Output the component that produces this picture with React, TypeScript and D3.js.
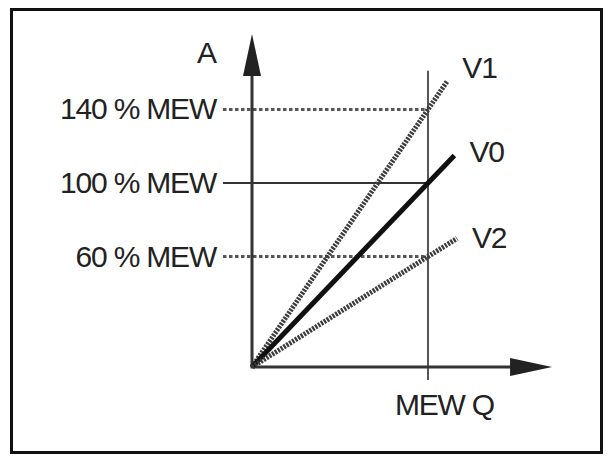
import React from "react";
import * as d3 from "d3";

// levels on the A axis, in % of MEW
const levelLabels = ["140 % MEW", "100 % MEW", "60 % MEW"];
const levelValues = [140, 100, 60];
const levelDotted = [true, false, true];

// characteristic lines through the origin: A = slope * Q
const seriesNames = ["V1", "V0", "V2"];
const seriesSlopes = [140, 100, 60];
const seriesEndQ = [1.11, 1.15, 1.165];
const seriesDotted = [true, false, true];

// axis extents (Q in units of MEW Q, A in %)
const qAxisEnd = 1.705;
const aAxisEnd = 181;
const mewQ = 1;
const mewLineRange = [-7, 161];

const W = 607;
const H = 456;
const FONT = "'Liberation Sans', Arial, sans-serif";
const FS = 30;
const LS = -1.2;

export default function App() {
  const x = d3.scaleLinear().domain([0, 1]).range([252, 428]);
  const y = d3.scaleLinear().domain([0, 100]).range([367, 183]);

  const ink = "#222";
  const arrowLen = 42;
  const arrowHalf = 9;

  const x0 = x(0);
  const y0 = y(0);
  const yTip = y(aAxisEnd);
  const xTip = x(qAxisEnd);

  const line = d3.line<[number, number]>().x((d) => x(d[0])).y((d) => y(d[1]));

  const textProps = { fontFamily: FONT, fontSize: FS, fill: ink, letterSpacing: LS };

  return (
    <div style={{ position: "absolute", left: 0, top: 0 }}>
      <svg width={W} height={H} style={{ display: "block", background: "#fff" }}>
        {/* frame */}
        <rect x={11.5} y={9.5} width={590} height={443} fill="none" stroke="#111" strokeWidth={3} />

        {/* level lines */}
        {levelValues.map((v, i) => (
          <g key={levelLabels[i]}>
            <line
              x1={223}
              x2={x(mewQ)}
              y1={y(v)}
              y2={y(v)}
              stroke={levelDotted[i] ? "#555" : "#333"}
              strokeWidth={levelDotted[i] ? 3 : 1.8}
              strokeDasharray={levelDotted[i] ? "3.5,2.5" : undefined}
            />
            <text x={216} y={y(v) + 10} textAnchor="end" {...textProps}>
              {levelLabels[i]}
            </text>
          </g>
        ))}

        {/* MEW Q vertical line */}
        <line
          x1={x(mewQ)}
          x2={x(mewQ)}
          y1={y(mewLineRange[0])}
          y2={y(mewLineRange[1])}
          stroke="#444"
          strokeWidth={1.8}
        />

        {/* axes */}
        <line x1={x0} x2={x0} y1={y0} y2={yTip + arrowLen - 2} stroke="#333" strokeWidth={3} />
        <path
          d={`M${x0},${yTip} L${x0 - arrowHalf},${yTip + arrowLen} L${x0 + arrowHalf},${yTip + arrowLen} Z`}
          fill="#222"
        />
        <line x1={x0 - 1.5} x2={xTip - arrowLen + 2} y1={y0} y2={y0} stroke="#333" strokeWidth={3} />
        <path
          d={`M${xTip},${y0} L${xTip - arrowLen},${y0 - arrowHalf} L${xTip - arrowLen},${y0 + arrowHalf} Z`}
          fill="#222"
        />

        {/* characteristic lines */}
        {seriesNames.map((name, i) => {
          const pts: [number, number][] = [
            [0, 0],
            [seriesEndQ[i], seriesSlopes[i] * seriesEndQ[i]],
          ];
          return (
            <path
              key={name}
              d={line(pts) || ""}
              fill="none"
              stroke={seriesDotted[i] ? "#3c3c3c" : "#111"}
              strokeWidth={5}
              strokeDasharray={seriesDotted[i] ? "2.2,1.2" : undefined}
              strokeLinecap="butt"
            />
          );
        })}

        {/* series labels */}
        {seriesNames.map((name, i) => {
          const qe = seriesEndQ[i];
          const ae = seriesSlopes[i] * qe;
          const dy = [-3, 7, 10][i];
          return (
            <text key={name + "-lbl"} x={x(qe) + 15} y={y(ae) + dy} {...textProps}>
              {name}
            </text>
          );
        })}

        {/* axis labels */}
        <text x={x0 - 55} y={yTip + 29} {...textProps}>
          A
        </text>
        <text x={x(mewQ) - 33} y={y0 + 48} {...textProps}>
          MEW Q
        </text>
      </svg>
    </div>
  );
}
